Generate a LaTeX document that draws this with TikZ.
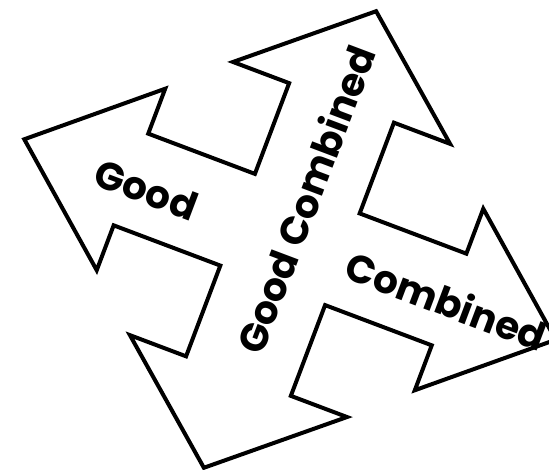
\documentclass[tikz,border=0pt]{standalone}
\usepackage{fontspec}
\setmainfont{Poppins}
\usepackage{tikz}

\tikzset{
  crossline/.style={draw=black, line width=4pt, line join=miter, fill=white},
  arrowtext/.style={font=\bfseries\fontsize{39}{42}\selectfont, inner sep=0pt, transform shape}
}

\begin{document}
\begin{tikzpicture}[x=1pt, y=1pt]
  \clip (0,0) rectangle (549,-470);
  \fill[white] (0,0) rectangle (549,-470);
  \begin{scope}[shift={(290,-239.5)}, rotate=-20.67]
    % four-way arrow
    \draw[crossline] (0,244) -- (116,146) -- (56,146) -- (56,49) -- (170,49) -- (170,97)
      -- (284,0) -- (170,-97) -- (170,-49) -- (56,-49) -- (56,-146) -- (116,-146)
      -- (0,-244) -- (-116,-146) -- (-56,-146) -- (-56,-49) -- (-170,-49) -- (-170,-97)
      -- (-284,0) -- (-170,97) -- (-170,49) -- (-56,49) -- (-56,146) -- (-116,146) -- cycle;
    \node[arrowtext] (good) at (-152,-4) {Good};
    \node[arrowtext] (combined) at (168,-2) {Combined};
    \node[arrowtext, rotate=90] (goodcombined) at (0,43) {Good Combined};
  \end{scope}
\end{tikzpicture}
\end{document}
